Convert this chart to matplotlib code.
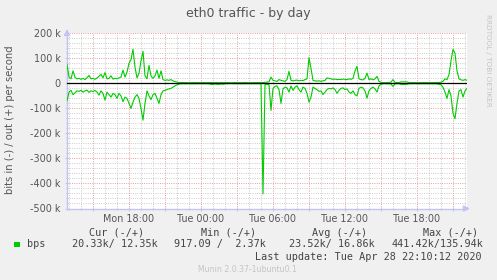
import matplotlib
matplotlib.use("Agg")
import matplotlib.pyplot as plt
import matplotlib.dates as mdates
from matplotlib.ticker import MultipleLocator, FuncFormatter
from matplotlib.patches import Rectangle
import numpy as np
import pandas as pd

# ---------------- data (k bits per second, 10-minute samples) ----------------
start_time = "2020-04-27 12:50"
sample_step = "10min"

out_k = [
    75, 25, 18, 50, 24, 18, 20, 16, 20, 15,
    22, 32, 18, 20, 16, 22, 28, 36, 22, 43,
    18, 20, 30, 17, 20, 18, 22, 25, 53, 25,
    45, 80, 95, 136, 65, 22, 40, 90, 128, 30,
    18, 72, 30, 20, 30, 53, 20, 50, 15, 12,
    14, 12, 15, 10, 7, 5, 3, 3.1, 2.8, 3.4,
    2.9, 3.0, 2.6, 3.3, 2.9, 3.1, 2.7, 3.0, 3.5, 2.8,
    3.0, 3.2, 2.7, 3.0, 2.9, 3.3, 2.6, 3.1, 2.8, 3.0,
    3.4, 2.9, 2.5, 3.0, 3.2, 2.8, 3.1, 2.7, 3.0, 3.3,
    2.9, 2.6, 3.0, 2.8, 3.2, 2.9, 3.0, 2.8, 3.0, 4,
    5, 6, 25, 12, 10, 8, 15, 12, 10, 8,
    15, 48, 12, 10, 12, 13, 10, 12, 11, 15,
    18, 103, 60, 12, 10, 9, 10, 8, 10, 12,
    22, 20, 18, 16, 17, 15, 16, 15, 17, 16,
    15, 18, 16, 20, 50, 68, 18, 15, 14, 20,
    41, 15, 18, 14, 18, 28, 8, 4, 3.0, 2.8,
    3.2, 3.0, 4.5, 15, 3.5, 3.0, 2.9, 6.0, 6.2, 6.0,
    5.8, 3.1, 2.8, 3.0, 3.3, 2.9, 3.0, 2.7, 3.2, 3.0,
    2.9, 3.1, 2.8, 3.0, 3.4, 3.1, 3.5, 4.5, 8, 18,
    15, 35, 90, 135.94, 120, 50, 18, 14, 12, 15,
    12.35,
]

in_k = [
    70, 35, 28, 45, 38, 30, 32, 28, 35, 30,
    27, 36, 30, 33, 28, 35, 47, 30, 40, 67,
    35, 45, 55, 40, 45, 60, 40, 50, 73, 55,
    60, 80, 100, 75, 55, 45, 60, 100, 147, 80,
    30, 50, 65, 45, 40, 60, 80, 45, 30, 28,
    25, 22, 20, 15, 10, 6, 3, 1.5, 1.2, 1.8,
    1.4, 1.1, 1.6, 1.3, 1.9, 1.2, 1.5, 1.0, 1.4, 1.7,
    1.3, 2.0, 3.5, 4.2, 2.5, 3.8, 4.0, 2.2, 3.6, 1.5,
    1.2, 1.4, 0.92, 1.3, 1.6, 1.1, 1.4, 1.8, 1.2, 1.5,
    1.3, 1.0, 1.4, 1.6, 1.2, 1.5, 1.3, 1.4, 441.42, 3,
    4, 5, 108, 20, 12, 10, 25, 80, 22, 15,
    18, 35, 10, 28, 15, 10, 25, 35, 15, 20,
    40, 75, 55, 15, 20, 25, 32, 30, 45, 35,
    25, 20, 22, 18, 25, 40, 28, 20, 18, 25,
    22, 35, 40, 30, 45, 50, 20, 15, 18, 30,
    59, 30, 20, 15, 22, 35, 10, 4, 1.5, 1.3,
    1.8, 1.2, 3.0, 12, 2.5, 1.4, 1.6, 4.0, 4.2, 4.0,
    3.8, 1.5, 1.3, 1.6, 1.2, 1.5, 1.8, 1.3, 1.4, 1.6,
    1.2, 1.5, 1.3, 1.7, 1.4, 2.0, 3.0, 6.0, 15, 35,
    60, 25, 50, 120, 141, 80, 30, 25, 55, 30,
    20.33,
]

y_ticks = [-500, -400, -300, -200, -100, 0, 100, 200]

title = "eth0 traffic - by day"
y_label = "bits in (-) / out (+) per second"
legend_headers = ["Cur (-/+)", "Min (-/+)", "Avg (-/+)", "Max (-/+)"]
legend_values = ["20.33k/ 12.35k", "917.09 /  2.37k", "23.52k/ 16.86k", "441.42k/135.94k"]
series_name = "bps"
last_update = "Last update: Tue Apr 28 22:10:12 2020"
footer = "Munin 2.0.37-1ubuntu0.1"
side_text = "RRDTOOL / TOBI OETIKER"

# ---------------- figure ----------------
W, H = 497, 280
fig = plt.figure(figsize=(W / 100, H / 100), dpi=100, facecolor="#F0F0F0")

def fx(px):
    return px / W

def fy(py):
    return 1 - py / H

ax_left, ax_right, ax_top, ax_bottom = 67, 467, 33.3, 208.5
ax = fig.add_axes([fx(ax_left), fy(ax_bottom), (ax_right - ax_left) / W, (ax_bottom - ax_top) / H])
ax.set_facecolor("white")

times = pd.date_range(start_time, periods=len(out_k), freq=sample_step)
green = "#00CC00"
ax.plot(times, out_k, color=green, lw=0.8, zorder=3)
ax.plot(times, -np.array(in_k), color=green, lw=0.8, zorder=3)
ax.axhline(0, color="black", lw=0.9, zorder=4)

ax.set_xlim(times[0], times[-1])
ax.set_ylim(min(y_ticks), max(y_ticks))

# grid
red_grid = "#E59090"
gray_grid = "#C6C6C6"
ax.xaxis.set_major_locator(mdates.HourLocator(byhour=range(0, 24, 3)))
ax.xaxis.set_minor_locator(mdates.HourLocator(interval=1))
ax.xaxis.set_major_formatter(FuncFormatter(
    lambda v, p: mdates.num2date(v).strftime("%a %H:%M") if mdates.num2date(v).hour % 6 == 0 else ""))
ax.yaxis.set_major_locator(MultipleLocator(100))
ax.yaxis.set_minor_locator(MultipleLocator(20))
ax.yaxis.set_major_formatter(FuncFormatter(lambda v, p: "0" if abs(v) < 1e-9 else f"{int(round(v))} k"))

ax.grid(which="minor", color=gray_grid, linestyle=(0, (1, 1.5)), lw=0.65, zorder=1)
ax.grid(which="major", color=red_grid, linestyle=(0, (1, 1.5)), lw=0.65, zorder=2)
ax.set_axisbelow(True)

axis_col = "#C4C4F2"
text_col = "#555555"
for s in ["top", "right"]:
    ax.spines[s].set_visible(False)
for s in ["left", "bottom"]:
    ax.spines[s].set_color(axis_col)
    ax.spines[s].set_linewidth(1.0)
ax.tick_params(which="both", color=axis_col, direction="inout", width=0.8)
ax.tick_params(which="major", length=3)
ax.tick_params(which="minor", length=2)
ax.tick_params(axis="y", labelsize=6.9, labelcolor=text_col, pad=3.0)
ax.tick_params(axis="x", labelsize=6.9, labelcolor=text_col, pad=2.5)

# axis arrows
ax.annotate("", xy=(0, 1.04), xytext=(0, 0.99), xycoords="axes fraction",
            arrowprops=dict(arrowstyle="-|>,head_length=0.35,head_width=0.18", color=axis_col, lw=1.0),
            annotation_clip=False)
ax.annotate("", xy=(1.014, 0), xytext=(0.99, 0), xycoords="axes fraction",
            arrowprops=dict(arrowstyle="-|>,head_length=0.35,head_width=0.18", color=axis_col, lw=1.0),
            annotation_clip=False)

# titles and labels
fig.text(fx(248), fy(14), title, ha="center", va="center", fontsize=9.0, color=text_col)
fig.text(fx(10.5), fy(120), y_label, ha="center", va="center", rotation=90, fontsize=7.2, color=text_col)
fig.text(fx(488), fy(14.5), side_text, ha="center", va="top", rotation=270, fontsize=5.2, color="#C4C4C4")

# legend
mono = "DejaVu Sans Mono"
leg_col = "#444444"
header_x = [89.3, 200.7, 312.3, 422.7]
value_x = [72, 174.3, 289, 391]
for t, x in zip(legend_headers, header_x):
    fig.text(fx(x), fy(232.7), t, ha="left", va="center", fontsize=7.3, family=mono, color=leg_col)
for t, x in zip(legend_values, value_x):
    fig.text(fx(x), fy(244.3), t, ha="left", va="center", fontsize=7.3, family=mono, color=leg_col)
fig.text(fx(27), fy(244.3), series_name, ha="left", va="center", fontsize=7.3, family=mono, color=leg_col)
fig.patches.append(Rectangle((fx(14), fy(247.2)), 5.5 / W, 5.5 / H, transform=fig.transFigure,
                             facecolor=green, edgecolor="none"))
fig.text(fx(482), fy(256.7), last_update, ha="right", va="center", fontsize=7.3, family=mono, color=leg_col)
fig.text(fx(248), fy(269), footer, ha="center", va="center", fontsize=5.6, color="#C4C4C4")

fig.savefig("out.png", dpi=100, facecolor=fig.get_facecolor())
